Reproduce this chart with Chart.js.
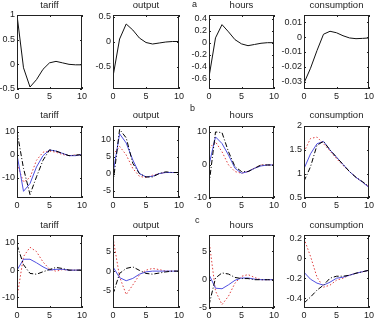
<!DOCTYPE html>
<html>
<head>
<meta charset="utf-8">
<script src="https://cdn.jsdelivr.net/npm/chart.js@4/dist/chart.umd.min.js"></script>
<style>
  body { margin: 0; background: #fff; width: 374px; height: 330px; overflow: hidden; position: relative; font-family: "Liberation Sans", Arial, sans-serif; }
  canvas { position: absolute; }
  .ttl { position: absolute; text-align: center; font-size: 9.5px; line-height: 10px; color: #222; }
  .tag { position: absolute; font-size: 9px; line-height: 9px; color: #222; }
</style>
</head>
<body>
<script>
// horizon (quarters) shared by every panel
const periods = [0, 1, 2, 3, 4, 5, 6, 7, 8, 9, 10];
const xTicks = [0, 5, 10];
const titles = ["tariff", "output", "hours", "consumption"];
const rowTags = ["a", "b", "c"];

// --- row a: single response
const aTariff = [1.0, -0.07, -0.46, -0.31, -0.1, 0.03, 0.06, 0.03, 0.0, -0.01, -0.01];
const aOutput = [-0.7, 0.05, 0.35, 0.23, 0.07, -0.02, -0.05, -0.03, -0.01, 0, 0];
const aHours = [-0.57, 0.08, 0.3, 0.18, 0.05, -0.02, -0.05, -0.03, -0.01, 0, 0];
const aCons = [-0.031, -0.021, -0.009, 0.002, 0.004, 0.003, 0.001, -0.0005, -0.001, -0.0008, -0.0005];

// --- row b: dash-dot (black), solid (blue), dotted (red)
const bTariffDash = [10, -6, -17.4, -9.7, -2.5, 2, 1.5, 0.5, -0.5, -0.3, 0];
const bTariffSolid = [0, -16, -12.6, -5.4, -0.5, 2, 1.5, 0.5, -0.5, -0.5, 0];
const bTariffDot = [-4, -12, -10, -2.5, 1, 1.5, 1, 0, -0.5, -0.2, 0];

const bOutputDash = [-3, 13, 10.5, 3, 0, -1, -1, 0, 0.5, 0.3, 0.3];
const bOutputSolid = [0, 11.7, 9, 4, 0, -1, -0.8, 0, 0.3, 0.3, 0.3];
const bOutputDot = [5.5, 8, 5.5, 1.5, -0.8, -1.2, -0.5, 0, 0.3, 0.3, 0.3];

const bHoursDash = [-6, 10, 9.8, 4, -0.5, -2, -2, -1, 0, 0, 0];
const bHoursSolid = [0, 8.5, 6.5, 3, -1, -2.5, -2, -1, -0.3, 0, 0];
const bHoursDot = [5, 7, 4, 0, -2, -2.5, -2, -1, 0, 0, 0];

const bConsDash = [0.85, 1.15, 1.6, 1.68, 1.5, 1.35, 1.2, 1.05, 0.93, 0.84, 0.74];
const bConsSolid = [1.11, 1.42, 1.63, 1.68, 1.5, 1.35, 1.2, 1.05, 0.93, 0.83, 0.72];
const bConsDot = [1.46, 1.74, 1.77, 1.63, 1.48, 1.32, 1.18, 1.05, 0.93, 0.83, 0.73];

// --- row c
const cTariffDash = [9.3, 2, -1.2, -1.5, -0.6, 0.2, 1, 0.6, 0, 0, 0];
const cTariffSolid = [0, 4, 4, 2.7, 1.2, 0, 0.3, 0.3, 0, 0, 0];
const cTariffDot = [-10, 5, 8.4, 6.8, 3, 0.4, -0.4, 0.2, 0, 0, 0];

const cOutputDash = [-6, -0.6, 0.7, 1.1, 0.2, -0.6, -0.8, -0.5, -0.2, 0, 0];
const cOutputSolid = [1.1, -1.7, -2.5, -1.9, -0.8, -0.2, 0, 0, 0, 0, 0];
const cOutputDot = [8.7, -1.5, -6.1, -3.6, -1, 0.25, 0.7, 0.4, 0, 0, 0];

const cHoursDash = [-4.5, 0.3, 1.2, 1, 0.4, 0.2, 0.2, 0, 0, 0, 0];
const cHoursSolid = [0.9, -1.5, -1.6, -0.9, -0.1, 0.3, 0.3, 0.1, 0, 0, 0];
const cHoursDot = [7, -2, -4.4, -2.9, -0.6, 0.6, 0.9, 0.4, 0, 0, 0];

const cConsDash = [-0.45, -0.39, -0.32, -0.27, -0.2, -0.18, -0.18, -0.17, -0.15, -0.135, -0.12];
const cConsSolid = [-0.14, -0.21, -0.25, -0.27, -0.24, -0.2, -0.19, -0.17, -0.15, -0.135, -0.12];
const cConsDot = [0.2, 0.02, -0.19, -0.29, -0.27, -0.22, -0.2, -0.17, -0.15, -0.135, -0.12];

// y tick labels and limits per panel
const aTicks = [[-0.5, 0, 0.5, 1], [-0.5, 0, 0.5], [-0.6, -0.4, -0.2, 0, 0.2, 0.4], [-0.03, -0.02, -0.01, 0, 0.01]];
const aLims = [[-0.5, 1], [-0.95, 0.53], [-0.77, 0.46], [-0.035, 0.015]];
const bTicks = [[-10, 0, 10], [-5, 0, 5, 10], [-10, 0, 10], [0.5, 1, 1.5, 2]];
const bLims = [[-18.9, 12.4], [-7.2, 14], [-10, 11.8], [0.5, 2]];
const cTicks = [[-10, 0, 10], [-5, 0, 5], [-5, 0, 5], [-0.4, -0.2, 0, 0.2]];
const cLims = [[-13.9, 12.9], [-9.6, 9.4], [-5, 7.9], [-0.5, 0.235]];

// plot boxes on the page
const cols = [[17, 82], [113, 179], [209, 274], [304, 369]];
const rows = [[15, 89], [126, 198], [235, 308]];
const titleY = [5, 115, 225];
const tagPos = [[192, 0], [190, 104], [195, 216]];

const Y_W = 30, PAD_T = 8, PAD_R = 8, X_H = 16;
const tickFont = { family: "'Liberation Sans', Arial, sans-serif", size: 9 };

const rowSeries = [
  [[aTariff], [aOutput], [aHours], [aCons]],
  [[bTariffDash, bTariffSolid, bTariffDot], [bOutputDash, bOutputSolid, bOutputDot],
   [bHoursDash, bHoursSolid, bHoursDot], [bConsDash, bConsSolid, bConsDot]],
  [[cTariffDash, cTariffSolid, cTariffDot], [cOutputDash, cOutputSolid, cOutputDot],
   [cHoursDash, cHoursSolid, cHoursDot], [cConsDash, cConsSolid, cConsDot]]
];
const rowTicks = [aTicks, bTicks, cTicks];
const rowLims = [aLims, bLims, cLims];

const styles = [
  { borderColor: '#000', borderDash: [5, 2, 1, 2] },
  { borderColor: '#5050e0', borderDash: [] },
  { borderColor: '#e04040', borderDash: [1.5, 2] }
];

// box round the plot area plus inward ticks, like the original axes
const frame = {
  id: 'frame',
  afterDraw(chart) {
    const { ctx, chartArea: a, scales: { x, y } } = chart;
    ctx.save();
    ctx.strokeStyle = '#222';
    ctx.lineWidth = 1;
    ctx.beginPath();
    x.ticks.forEach(t => {
      const px = Math.round(x.getPixelForValue(t.value)) + 0.5;
      ctx.moveTo(px, a.bottom); ctx.lineTo(px, a.bottom - 2);
      ctx.moveTo(px, a.top); ctx.lineTo(px, a.top + 2);
    });
    y.ticks.forEach(t => {
      const py = Math.round(y.getPixelForValue(t.value)) + 0.5;
      ctx.moveTo(a.left, py); ctx.lineTo(a.left + 2, py);
      ctx.moveTo(a.right, py); ctx.lineTo(a.right - 2, py);
    });
    ctx.stroke();
    ctx.strokeRect(a.left + 0.5, a.top + 0.5, a.width - 1, a.height - 1);
    ctx.restore();
  }
};

rows.forEach((r, ri) => {
  cols.forEach((c, ci) => {
    const cv = document.createElement('canvas');
    const w = Y_W + (c[1] - c[0]) + PAD_R;
    const h = PAD_T + (r[1] - r[0]) + X_H;
    cv.width = w; cv.height = h;
    cv.style.left = (c[0] - Y_W) + 'px';
    cv.style.top = (r[0] - PAD_T) + 'px';
    cv.style.width = w + 'px'; cv.style.height = h + 'px';
    document.body.appendChild(cv);

    const t = document.createElement('div');
    t.className = 'ttl';
    t.textContent = titles[ci];
    t.style.left = (c[0] - 10) + 'px';
    t.style.width = (c[1] - c[0] + 20) + 'px';
    t.style.top = (titleY[ri] - 5) + 'px';
    document.body.appendChild(t);

    const series = rowSeries[ri][ci];
    const yt = rowTicks[ri][ci];
    const lim = rowLims[ri][ci];
    const datasets = series.map((vals, k) => {
      const st = series.length === 1 ? { borderColor: '#111', borderDash: [] } : styles[k];
      return {
        data: periods.map((p, i) => ({ x: p, y: vals[i] })),
        borderColor: st.borderColor,
        borderDash: st.borderDash,
        borderWidth: 1,
        pointRadius: 0,
        tension: 0,
        fill: false
      };
    });

    new Chart(cv.getContext('2d'), {
      type: 'line',
      data: { datasets },
      options: {
        responsive: false,
        animation: false,
        events: [],
        layout: { padding: { top: PAD_T, right: PAD_R, left: 0, bottom: 0 } },
        plugins: { legend: { display: false }, tooltip: { enabled: false } },
        scales: {
          x: {
            type: 'linear', min: 0, max: 10,
            afterBuildTicks: s => { s.ticks = xTicks.map(v => ({ value: v })); },
            afterFit: s => { s.height = X_H; },
            grid: { display: false, drawTicks: false }, border: { display: false },
            ticks: { padding: 2, font: tickFont, color: '#222', maxRotation: 0, autoSkip: false, callback: v => String(v) }
          },
          y: {
            min: lim[0], max: lim[1],
            afterBuildTicks: s => { s.ticks = yt.map(v => ({ value: v })); },
            afterFit: s => { s.width = Y_W; },
            grid: { display: false, drawTicks: false }, border: { display: false },
            ticks: { padding: 2, font: tickFont, color: '#222', autoSkip: false, callback: v => String(v) }
          }
        }
      },
      plugins: [frame]
    });
  });
});

rowTags.forEach((s, i) => {
  const d = document.createElement('div');
  d.className = 'tag';
  d.textContent = s;
  d.style.left = tagPos[i][0] + 'px';
  d.style.top = tagPos[i][1] + 'px';
  document.body.appendChild(d);
});
</script>
</body>
</html>
